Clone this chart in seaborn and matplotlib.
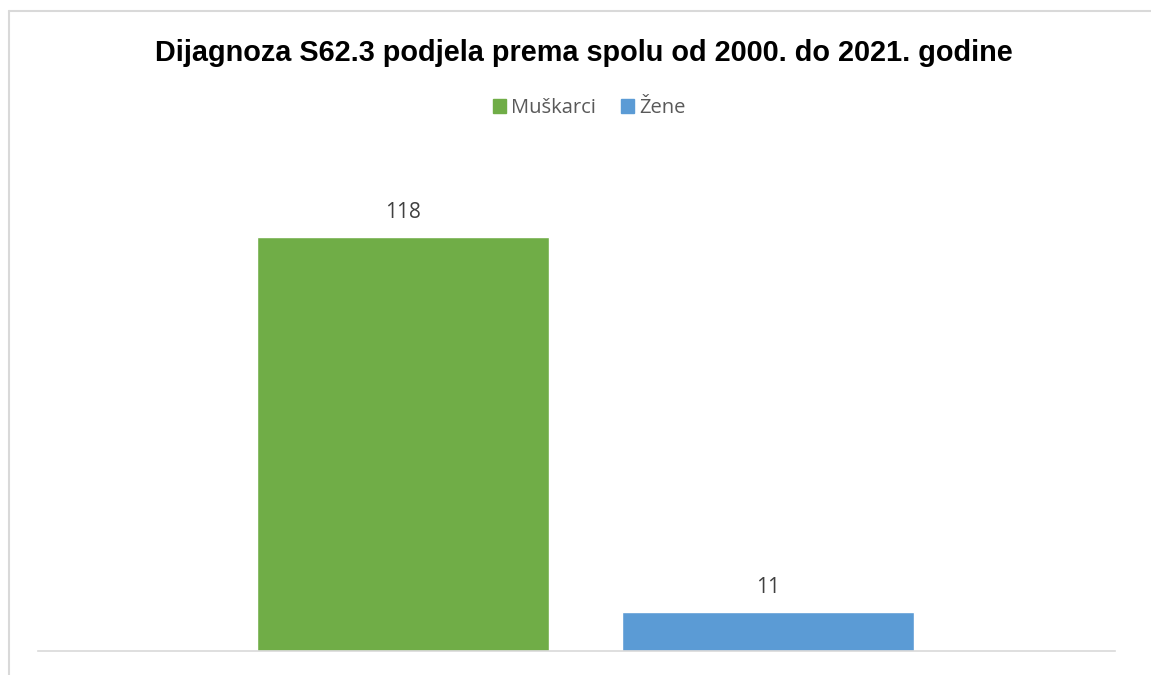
import matplotlib
matplotlib.use('Agg')
import matplotlib.pyplot as plt
import seaborn as sns
import pandas as pd
from matplotlib.lines import Line2D
from matplotlib.patches import Patch

# podaci
spol = ['Muškarci', 'Žene']
broj = [118, 11]
boje = ['#70ad47', '#5b9bd5']
naslov = 'Dijagnoza S62.3 podjela prema spolu od 2000. do 2021. godine'

df = pd.DataFrame({'Spol': spol, 'Broj': broj})

sns.set_style('white')
plt.rcParams['font.family'] = ['Liberation Sans', 'DejaVu Sans']

fig = plt.figure(figsize=(11.51, 6.75), dpi=100)
ax = fig.add_axes([0.033, 0.0356, 0.9357, 0.7274])

sns.barplot(x='Spol', y='Broj', data=df, hue='Spol', palette=boje,
            width=0.8, legend=False, ax=ax, saturation=1)

for i, v in enumerate(broj):
    ax.text(i, v + 4.1, str(v), ha='center', va='bottom',
            fontsize=15, color='#404040', family=['Open Sans', 'DejaVu Sans'])

ax.set_xlim(-1.0, 1.95)
ax.set_ylim(0, 140)
ax.set_xlabel('')
ax.set_ylabel('')
ax.set_xticks([])
ax.set_yticks([])
for s in ['top', 'right', 'left']:
    ax.spines[s].set_visible(False)
ax.spines['bottom'].set_color('#d9d9d9')
ax.spines['bottom'].set_linewidth(1.2)

fig.text(0.507, 0.922, naslov, ha='center', va='center',
         fontsize=20.8, fontweight='bold', color='black')

handles = [Patch(color=c, label=l) for c, l in zip(boje, spol)]
fig.legend(handles=handles, loc='center', bbox_to_anchor=(0.512, 0.84),
           ncol=2, frameon=False, handlelength=0.65, handleheight=0.65,
           handletextpad=0.25, columnspacing=1.25,
           prop={'family': ['Open Sans', 'DejaVu Sans'], 'size': 14.5},
           labelcolor='#595959')

# okvir grafikona
fig.add_artist(Line2D([9/1151, 9/1151], [0, 1 - 11/675], color='#d9d9d9', lw=1.5))
fig.add_artist(Line2D([9/1151, 1], [1 - 11/675, 1 - 11/675], color='#d9d9d9', lw=1.5))

fig.savefig('out.png', dpi=100)
